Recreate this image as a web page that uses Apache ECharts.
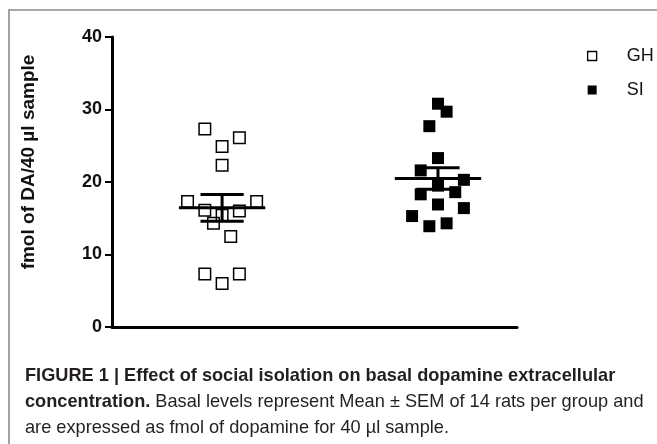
<!DOCTYPE html>
<html>
<head>
<meta charset="utf-8">
<title>Basal dopamine</title>
<script src="https://cdn.jsdelivr.net/npm/echarts@6/dist/echarts.min.js"></script>
<style>
    html, body { margin: 0; padding: 0; background: #fff; }
    #chart { width: 657px; height: 444px; }
</style>
</head>
<body>
<div id="chart"></div>
<script>
// groups and their place on the x scale
var groups = ['GH', 'SI'];
var groupPos = [1, 2];
// dots (fmol DA / 40 µl) and their sideways jitter in x units
var ghValues = [27.3, 26.1, 24.9, 22.3, 17.3, 17.3, 16.1, 16.0, 15.4, 14.3, 12.5, 7.3, 7.3, 6.0];
var ghJitter = [-0.08, 0.08, 0, 0, -0.16, 0.16, -0.08, 0.08, 0, -0.04, 0.04, -0.08, 0.08, 0];
var siValues = [30.8, 29.7, 27.7, 23.3, 21.6, 20.3, 19.5, 18.6, 18.3, 16.9, 16.4, 15.3, 14.3, 13.9];
var siJitter = [0, 0.04, -0.04, 0, -0.08, 0.12, 0, 0.08, -0.08, 0, 0.12, -0.12, 0.04, -0.04];
var yMin = 0, yMax = 40, yStep = 10;

function points(pos, vals, jit) {
    return vals.map(function (v, i) { return [pos + jit[i], v]; });
}
// mean and SEM of a group
function meanSem(vals) {
    var n = vals.length;
    var m = vals.reduce(function (a, b) { return a + b; }, 0) / n;
    var ss = vals.reduce(function (a, b) { return a + (b - m) * (b - m); }, 0);
    return [m, Math.sqrt(ss / (n - 1)) / Math.sqrt(n)];
}
var ghStat = meanSem(ghValues);
var siStat = meanSem(siValues);

var chart = echarts.init(document.getElementById('chart'));
var ink = '#000';
var sans = 'Liberation Sans, Arial, sans-serif';
var capInk = '#231f20';
var capSize = 18.2;

chart.setOption({
    animation: false,
    grid: { left: 112, top: 37, width: 405, height: 290 },
    xAxis: {
        type: 'value', min: 0.49, max: 2.366,
        axisLine: { show: true, lineStyle: { color: ink, width: 3 } },
        axisTick: { show: false },
        axisLabel: { show: false },
        splitLine: { show: false }
    },
    yAxis: {
        type: 'value', min: yMin, max: yMax, interval: yStep,
        axisLine: { show: true, lineStyle: { color: ink, width: 3 } },
        axisTick: { show: true, length: 7, lineStyle: { color: ink, width: 2 } },
        axisLabel: { margin: 10, color: '#111', fontSize: 18, fontWeight: 'bold', fontFamily: sans },
        splitLine: { show: false }
    },
    legend: {
        orient: 'vertical', left: 582, top: 41, itemGap: 14,
        itemWidth: 9, itemHeight: 9,
        textStyle: { fontSize: 18, color: '#111', fontFamily: sans, padding: [0, 0, 0, 25], lineHeight: 20 },
        data: [
            { name: groups[0], icon: 'rect', itemStyle: { color: '#fff', borderColor: ink, borderWidth: 1.3 } },
            { name: groups[1], icon: 'rect', itemStyle: { color: ink } }
        ]
    },
    series: [
        {
            name: 'mean', type: 'custom', z: 3,
            data: [[groupPos[0], ghStat[0], ghStat[1]], [groupPos[1], siStat[0], siStat[1]]],
            renderItem: function (params, api) {
                var x = api.value(0), m = api.value(1), s = api.value(2);
                function seg(x1, y1, x2, y2) {
                    var a = api.coord([x1, y1]), b = api.coord([x2, y2]);
                    return { type: 'line', shape: { x1: a[0], y1: a[1], x2: b[0], y2: b[1] },
                             style: { stroke: ink, lineWidth: 3 } };
                }
                return { type: 'group', children: [
                    seg(x - 0.2, m, x + 0.2, m),
                    seg(x, m - s, x, m + s),
                    seg(x - 0.1, m + s, x + 0.1, m + s),
                    seg(x - 0.1, m - s, x + 0.1, m - s)
                ] };
            }
        },
        {
            name: groups[0], type: 'scatter', z: 4,
            symbol: 'rect', symbolSize: 11.5,
            itemStyle: { color: 'rgba(255,255,255,0)', borderColor: ink, borderWidth: 1.5, opacity: 1 },
            data: points(groupPos[0], ghValues, ghJitter)
        },
        {
            name: groups[1], type: 'scatter', z: 4,
            symbol: 'rect', symbolSize: 12,
            itemStyle: { color: ink, opacity: 1 },
            data: points(groupPos[1], siValues, siJitter)
        }
    ],
    graphic: [
        { type: 'polyline', silent: true,
          shape: { points: [[9, 444], [9, 10], [657, 10]] },
          style: { stroke: '#8a8a8a', lineWidth: 1.6, fill: null } },
        { type: 'text', x: 29, y: 162, rotation: Math.PI / 2,
          style: { text: 'fmol of DA/40 µl sample', fill: '#111', align: 'center', verticalAlign: 'middle',
                   font: 'bold 19px ' + sans } },
        // caption
        { type: 'text', x: 25, y: 376,
          style: { text: 'FIGURE 1 | Effect of social isolation on basal dopamine extracellular',
                   fill: capInk, verticalAlign: 'middle', font: 'bold ' + capSize + 'px ' + sans } },
        { type: 'text', x: 25, y: 402,
          style: { text: '{b|concentration.} Basal levels represent Mean ± SEM of 14 rats per group and',
                   fill: capInk, verticalAlign: 'middle', font: capSize + 'px ' + sans,
                   rich: { b: { fontWeight: 'bold', fontSize: capSize, fontFamily: sans, fill: capInk } } } },
        { type: 'text', x: 25, y: 428,
          style: { text: 'are expressed as fmol of dopamine for 40 µl sample.',
                   fill: capInk, verticalAlign: 'middle', font: capSize + 'px ' + sans } }
    ]
});
</script>
</body>
</html>
